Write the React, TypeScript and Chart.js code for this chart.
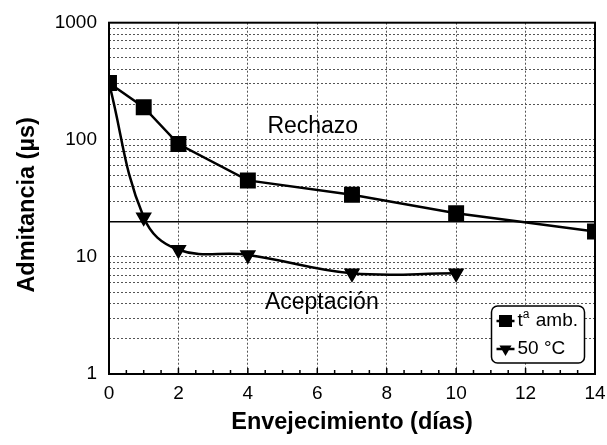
import React, { useEffect, useRef } from 'react';
import { Chart, registerables } from 'chart.js';

Chart.register(...registerables);

const FONT = "'Liberation Sans', Arial, Helvetica, sans-serif";

// Data
const ambientDays = [0, 1, 2, 4, 7, 10, 14];
const ambientValues = [305, 190, 92, 45, 34, 23.6, 16.5];
const hotDays = [0, 1, 2, 4, 7, 10];
const hotValues = [305, 21.8, 11.5, 10.4, 7.25, 7.25];
const limitDays = [0, 14];
const limitValues = [20, 20];
const seriesLabels = ['tª amb.', '50 °C'];
const limitLabel = 'Límite';

// Axes
const xMajorTicks = [0, 2, 4, 6, 8, 10, 12, 14];
const yGridValues = [1, 2, 3, 4, 5, 6, 7, 8, 9, 10, 20, 30, 40, 50, 60, 70, 80, 90, 100, 200, 300, 400, 500, 600, 700, 800, 900, 1000];
const yLabelValues = [1, 10, 100, 1000];
const xTitle = 'Envejecimiento (días)';
const yTitle = 'Admitancia (µs)  ';

// Region annotations (data coordinates)
const regionTexts = ['Rechazo', 'Aceptación'];
const regionX = [5.87, 6.13];
const regionY = [130, 4.1];

const toXY = (xs: number[], ys: number[]) => xs.map((x, i) => ({ x, y: ys[i] }));

const framePlugin = {
  id: 'frame',
  beforeDatasetsDraw(chart: any) {
    const { ctx, chartArea: a, scales } = chart;
    const xs = scales.x;
    const ys = scales.y;
    ctx.save();
    ctx.strokeStyle = '#000';
    ctx.lineWidth = 1.5;
    xs.ticks.forEach((t: any) => {
      const px = xs.getPixelForValue(t.value);
      const len = xMajorTicks.includes(t.value) ? 6 : 4;
      ctx.beginPath();
      ctx.moveTo(px, a.bottom);
      ctx.lineTo(px, a.bottom - len);
      ctx.stroke();
    });
    ctx.lineWidth = 2;
    ctx.strokeRect(a.left, a.top, a.right - a.left, a.bottom - a.top);
    ctx.font = `23px ${FONT}`;
    ctx.fillStyle = '#000';
    ctx.textAlign = 'center';
    ctx.textBaseline = 'middle';
    regionTexts.forEach((t, i) => {
      ctx.fillText(t, xs.getPixelForValue(regionX[i]), ys.getPixelForValue(regionY[i]));
    });
    ctx.restore();
  },
  afterDraw(chart: any) {
    const { ctx, chartArea: a } = chart;
    const w = 93;
    const h = 57;
    const right = a.right - 10.5;
    const bottom = a.bottom - 11;
    const left = right - w;
    const top = bottom - h;
    ctx.save();
    ctx.beginPath();
    ctx.roundRect(left, top, w, h, 6);
    ctx.fillStyle = '#fff';
    ctx.fill();
    ctx.lineWidth = 1.5;
    ctx.strokeStyle = '#000';
    ctx.stroke();
    const series = chart.data.datasets.filter((d: any) => seriesLabels.includes(d.label));
    series.forEach((ds: any, i: number) => {
      const cy = top + 15 + i * 28;
      ctx.strokeStyle = '#000';
      ctx.lineWidth = 2.5;
      ctx.beginPath();
      ctx.moveTo(left + 5, cy);
      ctx.lineTo(left + 23, cy);
      ctx.stroke();
      ctx.fillStyle = '#000';
      const mx = left + 14;
      if (ds.pointStyle === 'rect') {
        ctx.fillRect(mx - 6.5, cy - 6, 13, 12);
      } else {
        const r = 7;
        ctx.beginPath();
        ctx.moveTo(mx, cy + r);
        ctx.lineTo(mx - r * 0.866, cy - r * 0.5);
        ctx.lineTo(mx + r * 0.866, cy - r * 0.5);
        ctx.closePath();
        ctx.fill();
      }
      ctx.textAlign = 'left';
      ctx.textBaseline = 'middle';
      let tx = left + 26;
      const label: string = ds.label;
      for (const ch of label) {
        if (ch === 'ª') {
          ctx.font = `12px ${FONT}`;
          ctx.fillText('a', tx, cy - 6);
          tx += ctx.measureText('a').width + 1;
        } else {
          ctx.font = `19px ${FONT}`;
          ctx.fillText(ch, tx, cy);
          tx += ctx.measureText(ch).width;
        }
      }
    });
    ctx.restore();
  },
};

export default function App() {
  const ref = useRef<HTMLCanvasElement>(null);
  useEffect(() => {
    document.body.style.margin = '0';
    const canvas = ref.current;
    if (!canvas) return;
    const chart = new Chart(canvas, {
      type: 'line',
      data: {
        datasets: [
          {
            label: seriesLabels[0],
            data: toXY(ambientDays, ambientValues),
            borderColor: '#000',
            backgroundColor: '#000',
            borderWidth: 2.5,
            pointStyle: 'rect',
            pointRadius: 9.5,
            pointHoverRadius: 9.5,
            tension: 0,
          },
          {
            label: seriesLabels[1],
            data: toXY(hotDays, hotValues),
            borderColor: '#000',
            backgroundColor: '#000',
            borderWidth: 2.5,
            pointStyle: 'triangle',
            rotation: 180,
            pointRadius: (c: any) => (c.dataIndex === 0 ? 0 : 7),
            tension: 0.4,
          },
          {
            label: limitLabel,
            data: toXY(limitDays, limitValues),
            borderColor: '#000',
            borderWidth: 1.5,
            pointRadius: 0,
            tension: 0,
          },
        ],
      } as any,
      options: {
        animation: false,
        responsive: false,
        events: [],
        layout: { padding: { top: 22.7, right: 11.5, left: 0, bottom: 0 } },
        plugins: { legend: { display: false }, tooltip: { enabled: false } },
        scales: {
          x: {
            type: 'linear',
            min: 0,
            max: 14,
            afterFit: (s: any) => {
              s.height = 71;
              s.paddingLeft = 0;
              s.paddingRight = 0;
            },
            ticks: {
              stepSize: 0.5,
              autoSkip: false,
              maxRotation: 0,
              padding: 8,
              color: '#000',
              font: { family: FONT, size: 19 },
              callback: (v: any) => (xMajorTicks.includes(Number(v)) ? String(v) : ''),
            },
            grid: {
              drawTicks: false,
              lineWidth: 1,
              color: (c: any) =>
                c.tick && xMajorTicks.includes(c.tick.value) && c.tick.value > 0 && c.tick.value < 14
                  ? '#555'
                  : 'rgba(0,0,0,0)',
            },
            border: { display: false, dash: [2, 2] },
            title: {
              display: true,
              text: xTitle,
              color: '#000',
              font: { family: FONT, size: 23.5, weight: 'bold' },
              padding: { top: 0, bottom: 8 },
            },
          },
          y: {
            type: 'logarithmic',
            min: 1,
            max: 1000,
            afterFit: (s: any) => {
              s.width = 109;
              s.paddingTop = 0;
              s.paddingBottom = 0;
            },
            afterBuildTicks: (s: any) => {
              s.ticks = yGridValues.map((v) => ({ value: v }));
            },
            ticks: {
              autoSkip: false,
              padding: 12,
              color: '#000',
              font: { family: FONT, size: 19 },
              callback: (v: any) => (yLabelValues.includes(Number(v)) ? String(v) : ''),
            },
            grid: {
              drawTicks: false,
              lineWidth: 1,
              color: (c: any) =>
                c.tick && c.tick.value > 1 && c.tick.value < 1000 ? '#555' : 'rgba(0,0,0,0)',
            },
            border: { display: false, dash: [2, 2] },
            title: {
              display: true,
              text: yTitle,
              color: '#000',
              font: { family: FONT, size: 23.5, weight: 'bold' },
              padding: { top: 13, bottom: 0 },
            },
          },
        },
      } as any,
      plugins: [framePlugin],
    });
    return () => chart.destroy();
  }, []);
  return (
    <div style={{ width: 607, height: 445, background: '#fff' }}>
      <canvas ref={ref} width={607} height={445} />
    </div>
  );
}
